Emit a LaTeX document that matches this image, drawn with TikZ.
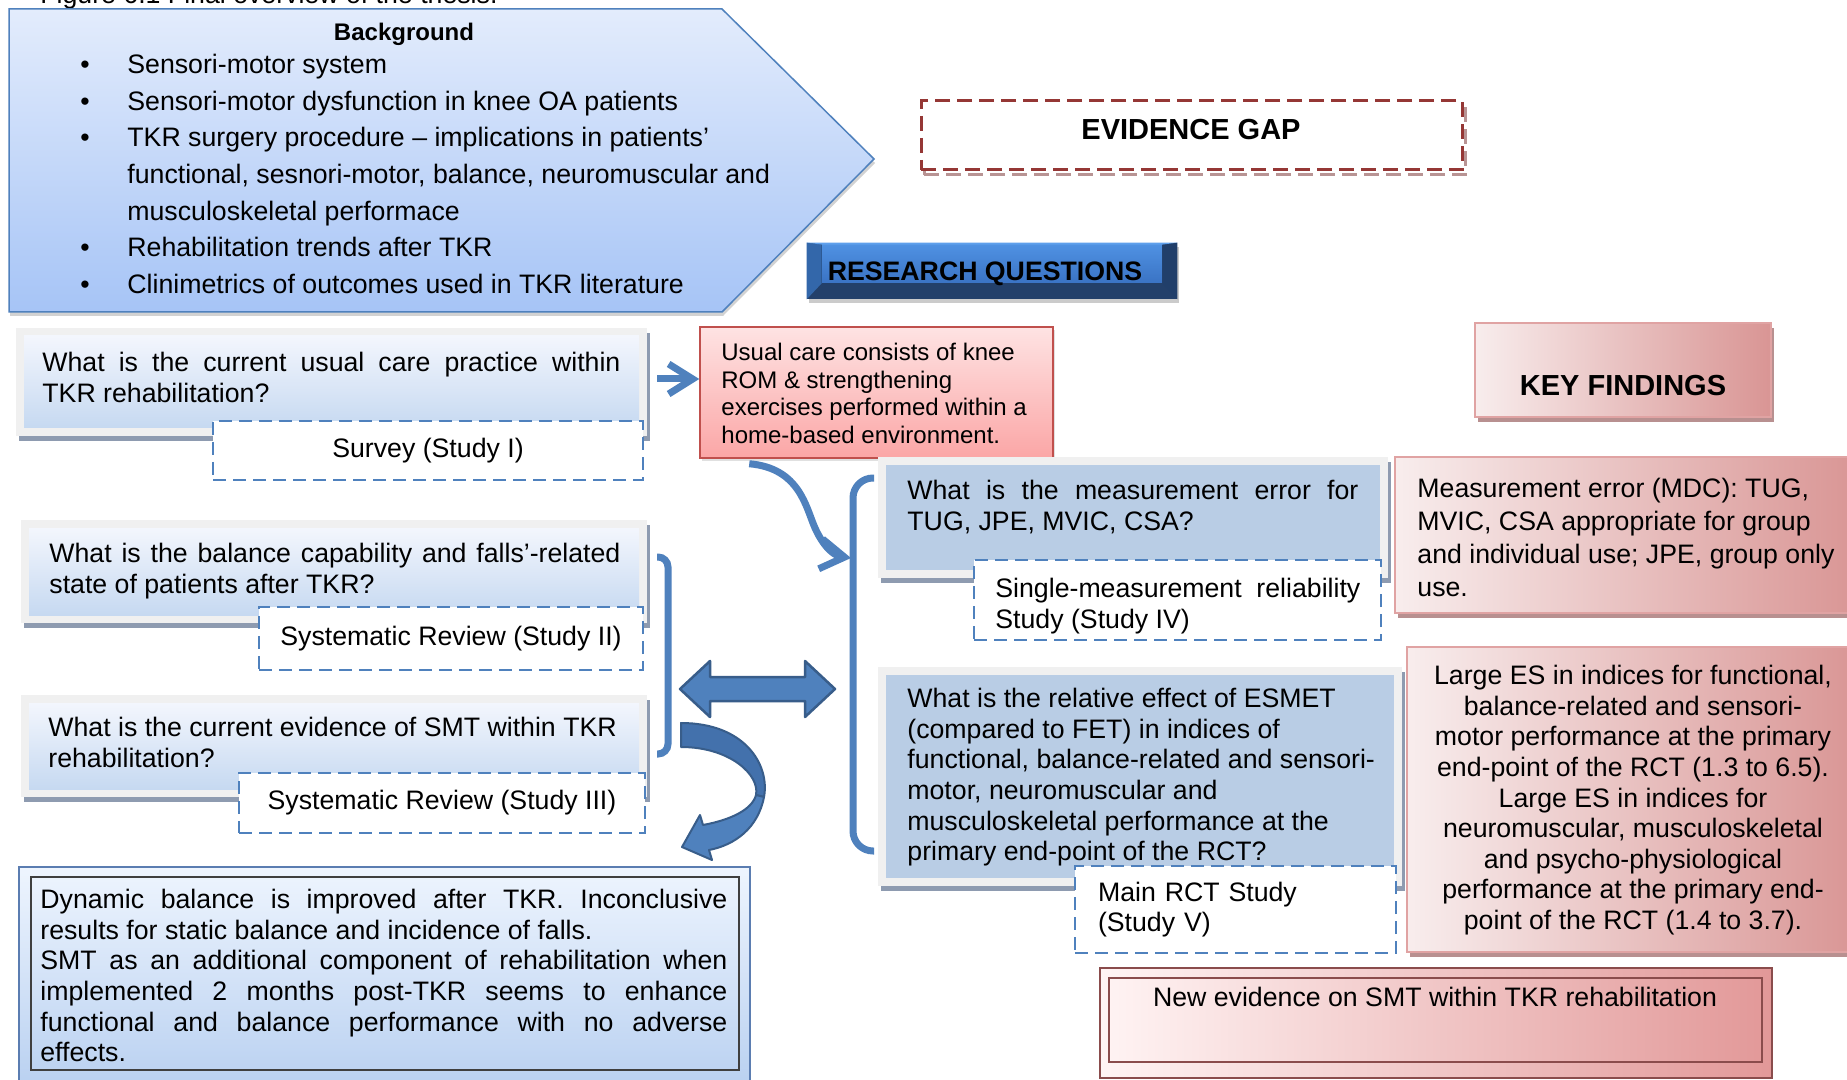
\documentclass[tikz,border=0pt]{standalone}
\usepackage{fontspec}
\setmainfont{Liberation Sans}
\usetikzlibrary{arrows.meta,shadows}

\definecolor{qblue}{HTML}{4F81BD}
\definecolor{qdark}{HTML}{385D8A}
\definecolor{uturndark}{HTML}{4371AC}
\definecolor{qlight}{HTML}{F3F6FD}
\definecolor{qmid}{HTML}{C6D9F1}
\definecolor{qsolid}{HTML}{B9CDE5}
\definecolor{qshade}{HTML}{8E9BB0}
\definecolor{framegray}{HTML}{F0F0F0}
\definecolor{bgtop}{HTML}{E3ECFC}
\definecolor{bgbot}{HTML}{A6C4F6}
\definecolor{redtop}{HTML}{FEE3E3}
\definecolor{redbot}{HTML}{FBA6A6}
\definecolor{redline}{HTML}{C0504D}
\definecolor{pinkleft}{HTML}{F8EDED}
\definecolor{pinkright}{HTML}{D99594}
\definecolor{pinkline}{HTML}{E0A3A3}
\definecolor{pinkshade}{HTML}{B89090}
\definecolor{gapred}{HTML}{953735}
\definecolor{gapshade}{HTML}{B89494}
\definecolor{rqbottom}{HTML}{23406A}
\definecolor{rqtop}{HTML}{4F91E2}
\definecolor{rqmid}{HTML}{3A73C4}
\definecolor{rqleft}{HTML}{3367AA}
\definecolor{rqright}{HTML}{213F6A}
\definecolor{rqtopc}{HTML}{5FA0EC}
\definecolor{neleft}{HTML}{FFF4F4}
\definecolor{nemid}{HTML}{FAD0D0}
\definecolor{neright}{HTML}{E29898}
\definecolor{nedark}{HTML}{8A4C4C}
\definecolor{dbtop}{HTML}{EEF5FE}
\definecolor{dbbot}{HTML}{B7CFF0}
\definecolor{dbline}{HTML}{5B7DB1}
\definecolor{dbinner}{HTML}{3F3F3F}

\newcommand{\qfont}{\fontsize{13.35}{15.3}\selectfont}
\newcommand{\ucfont}{\fontsize{12}{13.8}\selectfont}
\newcommand{\bgfont}{\fontsize{13.35}{18.3}\selectfont}
\newcommand{\hdfont}{\fontsize{14.5}{17}\selectfont\bfseries}
\newcommand{\bitem}{\makebox[23.5pt][l]{\textbullet}}
\hyphenpenalty=10000
\exhyphenpenalty=10000

\begin{document}
\begin{tikzpicture}[x=0.5pt, y=-0.5pt,
  qframe/.style={fill=framegray, inner sep=0pt,
    drop shadow={shadow xshift=1.5pt, shadow yshift=-2.5pt, fill=qshade, opacity=1}},
  lqfill/.style={top color=qlight, bottom color=qmid, inner sep=0pt},
  rqfill/.style={fill=qsolid, inner sep=0pt},
  studybox/.style={draw=qblue, fill=white, line width=1pt,
    dash pattern=on 6.5pt off 3.5pt, inner sep=0pt, font=\qfont},
  qtext/.style={anchor=north west, inner sep=0pt, font=\qfont},
  findbox/.style={left color=pinkleft, right color=pinkright, draw=pinkline,
    line width=1pt, inner sep=0pt,
    drop shadow={shadow xshift=1.5pt, shadow yshift=-2.5pt, fill=pinkshade, opacity=1}},
  gapbox/.style={draw=gapred, fill=white, line width=1.5pt,
    dash pattern=on 7.5pt off 3.5pt, inner sep=0pt,
    minimum width=270.5pt, minimum height=34.5pt},
  heading/.style={font=\hdfont, inner sep=0pt},
  brack/.style={draw=qblue, line width=3.5pt},
  openar/.style={draw=qblue, line width=3.5pt,
    -{Straight Barb[length=12pt, width=15pt]}},
  blockar/.style={fill=qblue, draw=qdark, line width=1.25pt, line join=round},
]
\useasboundingbox (0,0) rectangle (1847,1080);
\fill[white] (0,0) rectangle (1847,1080);

% ── Caption (cut at the top) ─────────────────────────────────────────────────
\node[anchor=base west, inner sep=0pt, font=\qfont] (caption) at (40,3.5)
  {Figure 6.1 Final overview of the thesis.};

% ── Background ───────────────────────────────────────────────────────────────
\shadedraw[top color=bgtop, bottom color=bgbot, draw=qblue, line width=0.75pt,
  drop shadow={shadow xshift=0.5pt, shadow yshift=-2pt, fill=black!35, opacity=.5}]
  (9,9) -- (722,9) -- (874,159) -- (722,312) -- (9,312) -- cycle;
\node[font=\fontsize{12}{14}\selectfont\bfseries, inner sep=0pt] (bgtitle) at (404,34) {Background};
\node[anchor=north west, inner sep=0pt, font=\bgfont, align=left] (bglist) at (80,54)
  {\bitem Sensori-motor system\\
   \bitem Sensori-motor dysfunction in knee OA patients\\
   \bitem TKR surgery procedure -- implications in patients'\\
   \hspace*{23.5pt}functional, sesnori-motor, balance, neuromuscular and\\
   \hspace*{23.5pt}musculoskeletal performace\\
   \bitem Rehabilitation trends after TKR\\
   \bitem Clinimetrics of outcomes used in TKR literature};

% ── Evidence gap / headings ──────────────────────────────────────────────────
\node[gapbox, draw=gapshade, fill=none] (egshade) at (1194.5,140.5) {};
\node[gapbox] (egbox) at (1191.5,135.5) {};
\node[heading] (egtext) at (1191,130) {EVIDENCE GAP};

\node[fill=rqbottom, minimum width=185pt, minimum height=28pt, inner sep=0pt,
  drop shadow={shadow xshift=1pt, shadow yshift=-2pt, fill=black!40, opacity=.5}] (rqbox) at (992,271) {};
\node[top color=rqtop, bottom color=rqmid, minimum width=170pt, minimum height=19pt,
  inner sep=0pt] (rqface) at (992,264) {};
\fill[rqleft] (rqbox.north west) -- (rqface.north west) -- (rqface.south west) -- (rqbox.south west) -- cycle;
\fill[rqright] (rqbox.north east) -- (rqface.north east) -- (rqface.south east) -- (rqbox.south east) -- cycle;
\fill[rqtopc] (rqbox.north west) -- (rqbox.north east) -- (rqface.north east) -- (rqface.north west) -- cycle;
\node[heading, font=\qfont\bfseries] (rqtext) at (985,274) {RESEARCH QUESTIONS};

\node[findbox, minimum width=148pt, minimum height=47pt] (kfbox) at (1623,370) {};
\node[heading] (kftext) at (1623,386) {KEY FINDINGS};

% ── Left questions ───────────────────────────────────────────────────────────
\node[qframe, minimum width=315.5pt, minimum height=54pt] (q1frame) at (331.5,382) {};
\node[lqfill, minimum width=307.5pt, minimum height=46pt] (q1fill) at (q1frame) {};
\node[studybox, minimum width=215pt, minimum height=29.5pt] (s1box) at (428,450.5) {Survey (Study I)};
\node[qtext, text width=289pt, align=justify] (q1text) at (42,352)
  {What is the current usual care practice within\linebreak TKR rehabilitation?};

\node[qframe, minimum width=313pt, minimum height=51.5pt] (q2frame) at (334,571.5) {};
\node[lqfill, minimum width=305pt, minimum height=43.5pt] (q2fill) at (q2frame) {};
\node[studybox, minimum width=192pt, minimum height=31.5pt] (s2box) at (451,638.5) {Systematic Review (Study II)};
\node[qtext, text width=285.5pt, align=justify] (q2text) at (49,543)
  {What is the balance capability and falls'-related\linebreak state of patients after TKR?};

\node[qframe, minimum width=313pt, minimum height=51pt] (q3frame) at (334,746) {};
\node[lqfill, minimum width=305pt, minimum height=43pt] (q3fill) at (q3frame) {};
\node[studybox, minimum width=203pt, minimum height=30pt] (s3box) at (442,803) {Systematic Review (Study III)};
\node[qtext, align=left] (q3text) at (48,717)
  {What is the current evidence of SMT within TKR\\rehabilitation?};

% ── Usual care finding ───────────────────────────────────────────────────────
\node[top color=redtop, bottom color=redbot, draw=redline, line width=0.75pt,
  minimum width=176.5pt, minimum height=65.5pt, inner sep=0pt,
  drop shadow={shadow xshift=1pt, shadow yshift=-1.5pt, fill=black!30, opacity=.4}] (ucbox) at (876.5,392.5) {};
\node[anchor=north west, inner sep=0pt, font=\ucfont, align=left] (uctext) at (721,343)
  {Usual care consists of knee\\ROM \& strengthening\\exercises performed within a\\home-based environment.};

% ── Right questions ──────────────────────────────────────────────────────────
\node[qframe, minimum width=255pt, minimum height=60.5pt] (q4frame) at (1133,517.5) {};
\node[rqfill, minimum width=247pt, minimum height=52.5pt] (q4fill) at (q4frame) {};
\node[studybox, minimum width=203.5pt, minimum height=40pt] (s4box) at (1177.5,600) {};
\node[qtext, text width=182.5pt, align=justify] (s4text) at (995,578)
  {Single-measurement reliability\linebreak Study (Study IV)};
\node[qtext, text width=225.5pt, align=justify] (q4text) at (907,480)
  {What is the measurement error for\linebreak TUG, JPE, MVIC, CSA?};

\node[qframe, minimum width=262pt, minimum height=109.5pt] (q5frame) at (1140,776.5) {};
\node[rqfill, minimum width=254pt, minimum height=101.5pt] (q5fill) at (q5frame) {};
\node[studybox, minimum height=43.5pt, text width=137.5pt, inner xsep=11.5pt,
  align=left] (s5box) at (1235.5,909.5) {Main RCT Study\\(Study V)};
\node[qtext, align=left] (q5text) at (907,688)
  {What is the relative effect of ESMET\\(compared to FET) in indices of\\functional, balance-related and sensori-\\motor, neuromuscular and\\musculoskeletal performance at the\\primary end-point of the RCT?};

% ── Key findings ─────────────────────────────────────────────────────────────
\node[findbox, minimum width=232.5pt, minimum height=78pt] (mebox) at (1627.5,535) {};
\node[anchor=north west, inner sep=0pt, font=\fontsize{13.35}{16.5}\selectfont, align=left] (metext) at (1417,478)
  {Measurement error (MDC): TUG,\\MVIC, CSA appropriate for group\\and individual use; JPE, group only\\use.};

\node[findbox, minimum width=226.5pt, minimum height=152.5pt] (esbox) at (1633.5,799.5) {};
\node[anchor=north, inner sep=0pt, font=\qfont, align=center] (estext) at (1633,665)
  {Large ES in indices for functional,\\balance-related and sensori-\\motor performance at the primary\\end-point of the RCT (1.3 to 6.5).\\Large ES in indices for\\neuromuscular, musculoskeletal\\and psycho-physiological\\performance at the primary end-\\point of the RCT (1.4 to 3.7).};

\node[left color=neleft, middle color=nemid, right color=neright, draw=nedark, line width=0.75pt,
  minimum width=336pt, minimum height=55pt, inner sep=0pt] (nebox) at (1436,1023) {};
\node[draw=nedark, line width=0.6pt, minimum width=326.5pt, minimum height=42pt, inner sep=0pt] (neinner) at (1435.5,1020) {};
\node[font=\qfont, inner sep=0pt] (netext) at (1435,997) {New evidence on SMT within TKR rehabilitation};

\node[top color=dbtop, bottom color=dbbot, draw=dbline, line width=1.25pt,
  minimum width=365.5pt, minimum height=114pt, inner sep=0pt] (dbbox) at (384.5,981) {};
\node[draw=dbinner, line width=0.9pt, minimum width=354pt, minimum height=96.5pt, inner sep=0pt] (dbinnerbox) at (385,973.5) {};
\node[qtext, text width=343.5pt, align=justify] (dbtext) at (40,889)
  {Dynamic balance is improved after TKR. Inconclusive results for static balance and incidence of falls.\\SMT as an additional component of rehabilitation when implemented 2 months post-TKR seems to enhance functional and balance performance with no adverse effects.};

% ── Brackets and connectors ──────────────────────────────────────────────────
\coordinate (ucin) at ([yshift=6.75pt]ucbox.west);
\draw[openar, shorten <=5pt] (q1frame.east |- ucin) -- (ucin);

\coordinate (lbrtop) at (657,557);
\coordinate (lbrbot) at (657,754);
\draw[brack, rounded corners=5pt] (lbrtop) -- ++(11,0) |- (lbrbot);

\coordinate (rbrtop) at (874,478);
\coordinate (rbrbot) at (874,851);
\coordinate (rbrmid) at (851,558);
\draw[brack, rounded corners=10pt] (rbrtop) -- ++(-21,0) |- (rbrbot);

\coordinate (ucout) at ([xshift=25pt, yshift=-2.5pt]ucbox.south west);
\draw[openar] (ucout) .. controls (800,468) and (806,508) .. (815,528)
  .. controls (825,550) and (836,556) .. (rbrmid);

% double block arrow between the two groups
\coordinate (dblL) at (680,689);
\filldraw[blockar] (dblL) -- ++(30,-28) -- ++(0,16) -- ++(95,0) -- ++(0,-16) -- ++(30,28)
  -- ++(-30,28) -- ++(0,-16) -- ++(-95,0) -- ++(0,16) -- cycle;

% curved block arrow down to the review findings
\filldraw[fill=uturndark, draw=qdark, line width=1pt, line join=round]
  (681,723) .. controls (745,723) and (770,765) .. (764,797) -- (756,795)
  .. controls (760,775) and (730,747) .. (681,747) -- cycle;
\filldraw[blockar, line width=1pt]
  (764,797) .. controls (758,828) and (735,845) .. (709,850) -- (712,860) -- (682,847)
  -- (700,815) -- (703,825) .. controls (730,820) and (752,810) .. (756,795) -- cycle;

\end{tikzpicture}
\end{document}
